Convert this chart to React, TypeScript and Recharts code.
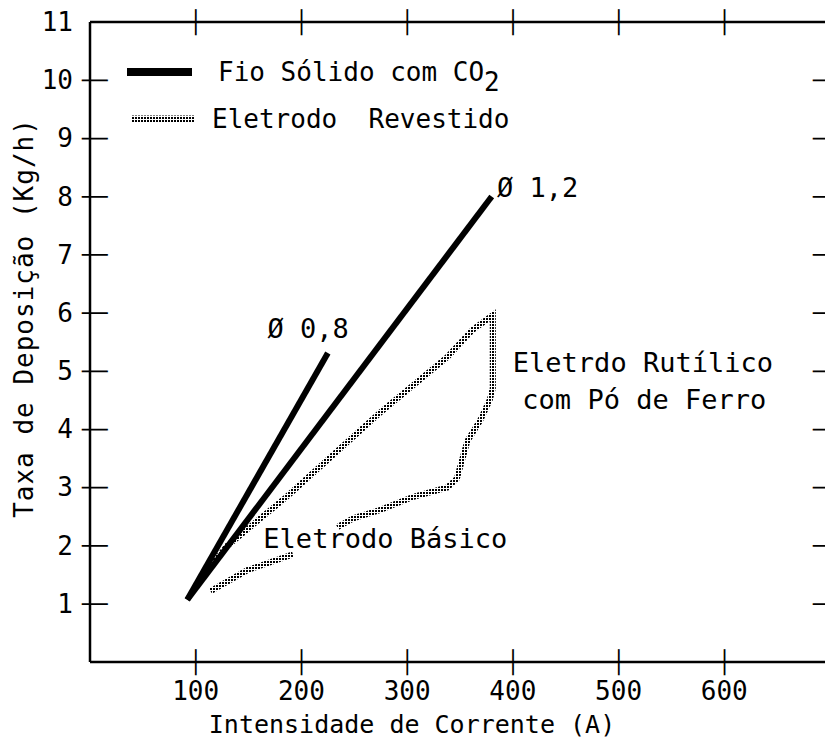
import React from 'react';
import { LineChart, Line, XAxis, YAxis, Legend, ReferenceDot } from 'recharts';

const FONT = '"DejaVu Sans Mono", "Liberation Mono", monospace';

// axis ticks
const X_TICKS = [100, 200, 300, 400, 500, 600];
const Y_TICKS = [1, 2, 3, 4, 5, 6, 7, 8, 9, 10, 11];

// series names
const SOLID_NAME = 'Fio Sólido com CO2';
const COATED_NAME = 'Eletrodo  Revestido';
const LEGEND_NAMES = [SOLID_NAME, COATED_NAME];

// Fio sólido, Ø 0,8 and Ø 1,2 (corrente A, taxa kg/h)
const WIRE_08 = [
  { i: 92, taxa: 1.07 },
  { i: 225, taxa: 5.31 },
];
const WIRE_12 = [
  { i: 92, taxa: 1.07 },
  { i: 380, taxa: 8.0 },
];

// Eletrodo rutílico com pó de ferro (closed-ish loop)
const RUTILE = [
  { i: 108, taxa: 1.5 },
  { i: 130, taxa: 2.0 },
  { i: 186, taxa: 2.84 },
  { i: 274, taxa: 4.28 },
  { i: 338, taxa: 5.24 },
  { i: 362, taxa: 5.71 },
  { i: 381, taxa: 5.96 },
  { i: 381, taxa: 4.7 },
  { i: 378, taxa: 4.5 },
  { i: 369, taxa: 4.15 },
  { i: 357, taxa: 3.8 },
  { i: 347, taxa: 3.15 },
  { i: 338, taxa: 3.0 },
  { i: 306, taxa: 2.84 },
  { i: 274, taxa: 2.61 },
  { i: 249, taxa: 2.47 },
  { i: 234, taxa: 2.32 },
];

// Eletrodo básico
const BASIC = [
  { i: 114, taxa: 1.22 },
  { i: 149, taxa: 1.58 },
  { i: 192, taxa: 1.85 },
];

// text notes placed in data units (left edge, vertical centre)
const NOTES = [
  { text: 'Ø 1,2', i: 385, taxa: 8.16 },
  { text: 'Ø 0,8', i: 168, taxa: 5.74 },
  { text: 'Eletrdo Rutílico', i: 400, taxa: 5.14 },
  { text: 'com Pó de Ferro', i: 409, taxa: 4.52 },
  { text: 'Eletrodo Básico', i: 164, taxa: 2.13 },
];

const LEGEND_ROWS = [
  { y: 72, x1: 127, x2: 192, tx: 218, w: 8 },
  { y: 119, x1: 132, x2: 195, tx: 212, w: 7 },
];

// plot box size, used to mirror marks onto the top / right frame
const PLOT_W = 740;
const PLOT_H = 640;

const AXIS_LINE = { stroke: '#000', strokeWidth: 2.5 };

// shapes inside custom ticks did not show up, so marks are box-drawing glyphs
const Mark = ({ x, y, rotate = false }: { x: number; y: number; rotate?: boolean }) => (
  <text
    x={x}
    y={y}
    textAnchor="middle"
    dominantBaseline="central"
    fontFamily={FONT}
    fontSize={22}
    fill="#000"
    transform={rotate ? `rotate(90 ${x} ${y})` : undefined}
  >
    │
  </text>
);

const LeftTick = (props: any) => {
  const x = Number(props.x);
  const y = Number(props.y);
  const v = props.payload.value;
  return (
    <g>
      {v < 11 && <Mark x={x + 4.5} y={y} rotate />}
      {v < 11 && <Mark x={x + PLOT_W - 4.5} y={y} rotate />}
      <text x={x - 17} y={y} textAnchor="end" dominantBaseline="central" fontFamily={FONT} fontSize={26} fill="#000">
        {v}
      </text>
    </g>
  );
};

const BottomTick = (props: any) => {
  const x = Number(props.x);
  const y = Number(props.y);
  return (
    <g>
      <Mark x={x} y={y} />
      <Mark x={x} y={y - PLOT_H} />
      <text x={x} y={y + 29} textAnchor="middle" dominantBaseline="central" fontFamily={FONT} fontSize={26} fill="#000">
        {props.payload.value}
      </text>
    </g>
  );
};

const renderLegend = (props: any) => {
  const entries = (props.payload || []).filter((e: any) => LEGEND_NAMES.includes(e.value));
  return (
    <svg width={560} height={150}>
      {entries.map((entry: any) => {
        const name: string = entry.value;
        const row = LEGEND_ROWS[LEGEND_NAMES.indexOf(name)];
        const sub = name.endsWith('CO2');
        return (
          <g key={name}>
            <line x1={row.x1} x2={row.x2} y1={row.y} y2={row.y} stroke={entry.color} strokeWidth={row.w} />
            <text x={row.tx} y={row.y} dominantBaseline="central" fontFamily={FONT} fontSize={26} fill="#000" style={{ whiteSpace: 'pre' }}>
              {sub ? name.slice(0, -1) : name}
              {sub && <tspan dy={10}>2</tspan>}
            </text>
          </g>
        );
      })}
    </svg>
  );
};

const App: React.FC = () => {
  return (
    <div style={{ position: 'absolute', left: 0, top: 0, width: 825, height: 744, overflow: 'hidden', background: '#fff' }}>
      <svg width={0} height={0} style={{ position: 'absolute' }}>
        <defs>
          <pattern id="dotPat" width="3" height="3" patternUnits="userSpaceOnUse">
            <rect width="2" height="2" fill="#000" />
          </pattern>
        </defs>
      </svg>
      <LineChart width={840} height={744} margin={{ top: 21, right: 10, bottom: 0, left: 0 }}>
        <XAxis
          dataKey="i"
          type="number"
          domain={[0, 700]}
          ticks={X_TICKS}
          interval={0}
          height={82}
          tickSize={0}
          tickMargin={0}
          tickLine={false}
          axisLine={AXIS_LINE}
          tick={<BottomTick />}
          label={() => (
            <text x={412} y={724} textAnchor="middle" dominantBaseline="central" fontFamily={FONT} fontSize={25} fill="#000">
              Intensidade de Corrente (A)
            </text>
          )}
        />
        <XAxis
          xAxisId="top"
          orientation="top"
          dataKey="i"
          type="number"
          domain={[0, 700]}
          height={1}
          tickLine={false}
          axisLine={AXIS_LINE}
          tick={false}
        />
        <YAxis
          type="number"
          domain={[0, 11]}
          ticks={Y_TICKS}
          interval={0}
          width={90}
          tickSize={0}
          tickMargin={0}
          tickLine={false}
          axisLine={AXIS_LINE}
          tick={<LeftTick />}
          label={() => (
            <text
              x={24}
              y={318}
              transform="rotate(-90 24 318)"
              textAnchor="middle"
              dominantBaseline="central"
              fontFamily={FONT}
              fontSize={26}
              letterSpacing={1}
              fill="#000"
            >
              Taxa de Deposição (Kg/h)
            </text>
          )}
        />
        <Legend
          layout="vertical"
          align="center"
          verticalAlign="middle"
          content={renderLegend}
          wrapperStyle={{ left: 0, top: 0, width: 560, height: 150 }}
        />
        <Line data={WIRE_08} dataKey="taxa" name={SOLID_NAME} stroke="#000" strokeWidth={6} dot={false} isAnimationActive={false} />
        <Line data={WIRE_12} dataKey="taxa" name="Ø 1,2" legendType="none" stroke="#000" strokeWidth={6} dot={false} isAnimationActive={false} />
        <Line data={RUTILE} dataKey="taxa" name={COATED_NAME} stroke="url(#dotPat)" strokeWidth={6} dot={false} isAnimationActive={false} />
        <Line data={BASIC} dataKey="taxa" name="Eletrodo Básico" legendType="none" stroke="url(#dotPat)" strokeWidth={6} dot={false} isAnimationActive={false} />
        {NOTES.map((n) => (
          <ReferenceDot
            key={n.text}
            x={n.i}
            y={n.taxa}
            r={0}
            fill="none"
            stroke="none"
            label={({ viewBox }: any) => (
              <text x={viewBox.x} y={viewBox.y} dominantBaseline="central" fontFamily={FONT} fontSize={27} fill="#000">
                {n.text}
              </text>
            )}
          />
        ))}
      </LineChart>
    </div>
  );
};

export default App;
